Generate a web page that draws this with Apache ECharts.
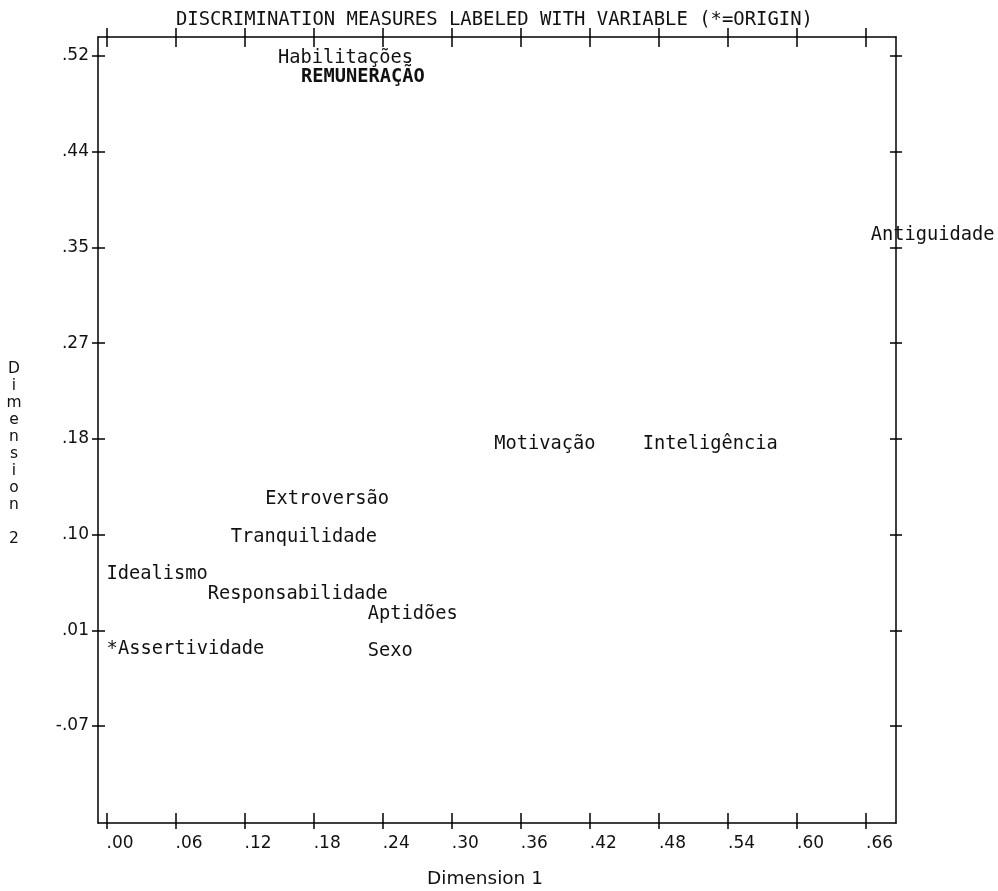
<!DOCTYPE html>
<html>
<head>
<meta charset="utf-8">
<script src="https://cdn.jsdelivr.net/npm/echarts@6/dist/echarts.min.js"></script>
<style>
html, body { margin: 0; padding: 0; background: #fff; }
#chart { width: 998px; height: 891px; }
</style>
</head>
<body>
<div id="chart"></div>
<script>
// Discrimination measures per variable (dimension 1, dimension 2)
const variableNames = ['Habilitações', 'REMUNERAÇÃO', 'Antiguidade', 'Motivação', 'Inteligência',
  'Extroversão', 'Tranquilidade', 'Idealismo', 'Responsabilidade', 'Aptidões', 'Assertividade', 'Sexo'];
const dimension1 = [0.149, 0.169, 0.664, 0.337, 0.466, 0.138, 0.108, 0.000, 0.088, 0.227, 0.010, 0.227];
const dimension2 = [0.529, 0.512, 0.370, 0.183, 0.183, 0.134, 0.100, 0.067, 0.049, 0.031, 0.000, -0.002];
const boldNames = ['REMUNERAÇÃO'];
const origin = [0, 0];

// Tick positions and their printed (truncated) labels
const xTickValues = [0, 0.06, 0.12, 0.18, 0.24, 0.30, 0.36, 0.42, 0.48, 0.54, 0.60, 0.66];
const xTickLabels = ['.00', '.06', '.12', '.18', '.24', '.30', '.36', '.42', '.48', '.54', '.60', '.66'];
const yTickValues = [-0.0714, 0.0143, 0.1, 0.1857, 0.2714, 0.3571, 0.4429, 0.5286];
const yTickLabels = ['-.07', '.01', '.10', '.18', '.27', '.35', '.44', '.52'];

const xRange = [-0.0074, 0.686];
const yRange = [-0.1583, 0.5456];

const MONO = 'DejaVu Sans Mono';
const SANS = 'DejaVu Sans';
const INK = '#111';
const frameLine = { color: '#000', width: 1.5 };

function lookup(values, labels) {
  return function (v) {
    for (let i = 0; i < values.length; i++) {
      if (Math.abs(values[i] - v) < 1e-6) return labels[i];
    }
    return '';
  };
}

function xAxisDef(position, inside, len, showLine, showLabel) {
  return {
    type: 'value', position: position, min: xRange[0], max: xRange[1],
    axisLine: { show: showLine, onZero: false, lineStyle: frameLine },
    axisTick: { show: true, inside: inside, length: len, customValues: xTickValues, lineStyle: frameLine },
    axisLabel: {
      show: showLabel, customValues: xTickValues, formatter: lookup(xTickValues, xTickLabels),
      align: 'left', margin: 12, fontFamily: SANS, fontSize: 17, color: INK
    },
    splitLine: { show: false }
  };
}

function yAxisDef(position, inside, len, showLine, showLabel) {
  return {
    type: 'value', position: position, min: yRange[0], max: yRange[1],
    axisLine: { show: showLine, onZero: false, lineStyle: frameLine },
    axisTick: { show: true, inside: inside, length: len, customValues: yTickValues, lineStyle: frameLine },
    axisLabel: {
      show: showLabel, customValues: yTickValues, formatter: lookup(yTickValues, yTickLabels),
      margin: 9, fontFamily: SANS, fontSize: 17, color: INK
    },
    splitLine: { show: false }
  };
}

const pointData = variableNames.map(function (n, i) {
  const item = { name: n, value: [dimension1[i], dimension2[i]] };
  if (boldNames.indexOf(n) >= 0) item.label = { fontWeight: 'bold' };
  return item;
});

const labelStyle = {
  show: true, position: 'right', distance: 0, offset: [0, 2.5], formatter: '{b}',
  fontFamily: MONO, fontSize: 18.7, color: INK, opacity: 1
};

const chart = echarts.init(document.getElementById('chart'), null, { renderer: 'canvas' });
chart.setOption({
  backgroundColor: '#fff',
  animation: false,
  title: {
    text: 'DISCRIMINATION MEASURES LABELED WITH VARIABLE (*=ORIGIN)',
    left: 171, top: 6,
    textStyle: { fontFamily: MONO, fontSize: 18.9, fontWeight: 'normal', color: INK }
  },
  grid: { left: 98, right: 102, top: 37, bottom: 68 },
  xAxis: [
    xAxisDef('bottom', true, 10, true, true),
    xAxisDef('bottom', false, 6, false, false),
    xAxisDef('top', true, 10, true, false),
    xAxisDef('top', false, 9, false, false)
  ],
  yAxis: [
    yAxisDef('left', true, 7, true, true),
    yAxisDef('left', false, 6, false, false),
    yAxisDef('right', true, 6, true, false),
    yAxisDef('right', false, 6, false, false)
  ],
  graphic: [
    {
      type: 'text', x: 485, y: 879,
      style: {
        text: 'Dimension 1', fontFamily: SANS, fontSize: 18.5, fill: INK,
        align: 'center', verticalAlign: 'middle'
      }
    },
    {
      type: 'text', x: 14, y: 360,
      style: {
        text: 'D\ni\nm\ne\nn\ns\ni\no\nn\n\n2',
        fontFamily: SANS, fontSize: 15.5, lineHeight: 17, fill: INK, align: 'center'
      }
    }
  ],
  series: [
    {
      type: 'scatter', xAxisIndex: 0, yAxisIndex: 0, symbolSize: 0,
      itemStyle: { opacity: 1 },
      data: pointData, label: labelStyle, emphasis: { disabled: true }
    },
    {
      type: 'scatter', xAxisIndex: 0, yAxisIndex: 0, symbolSize: 0,
      itemStyle: { opacity: 1 },
      data: [{ name: '*', value: origin }], label: labelStyle, emphasis: { disabled: true }
    }
  ]
});
</script>
</body>
</html>
